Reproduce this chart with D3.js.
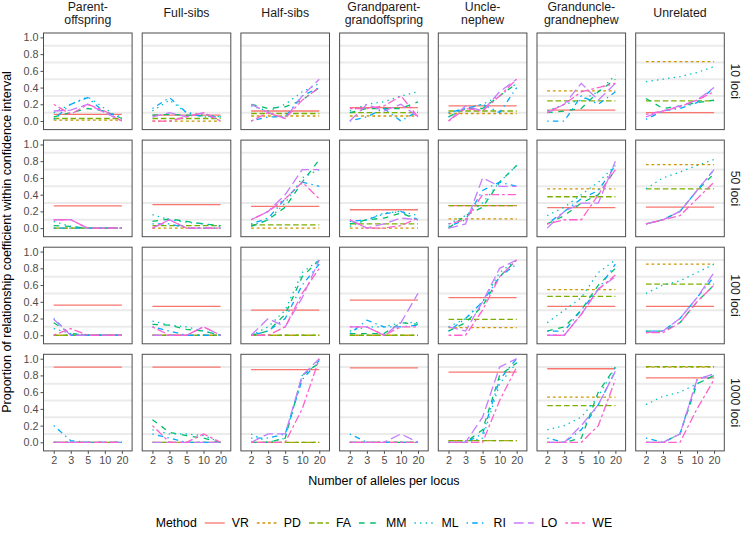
<!DOCTYPE html>
<html><head><meta charset="utf-8">
<script src="https://cdn.jsdelivr.net/npm/d3@7"></script>
<style>body{margin:0;background:#fff}svg{display:block;font-family:"Liberation Sans",Arial,sans-serif}</style>
</head><body><svg id="c" width="744" height="533"></svg>
<script>
const relationships = [["Parent-","offspring"],["Full-sibs"],["Half-sibs"],["Grandparent-","grandoffspring"],["Uncle-","nephew"],["Granduncle-","grandnephew"],["Unrelated"]];
const lociLevels = ["10 loci","50 loci","100 loci","1000 loci"];
const alleles = ["2","3","5","10","20"];
const yTicks = [0,0.2,0.4,0.6,0.8,1.0];
const gridVals = [0.1,0.3,0.5,0.7,0.9];
const methods = ["VR","PD","FA","MM","ML","RI","LO","WE"];
const colors = ["#F8766D","#CD9600","#7CAE00","#00BE67","#00BFC4","#00A9FF","#C77CFF","#FF61CC"];
const dashUnits = [null,[2,2],[4,2],[4,4],[1,3],[1,3,4,3],[7,3],[2,2,6,2]];

// values: [row(loci)][column(relationship)][alleles]
const VR = [
 [[.08,.08,.08,.08,.08],[.07,.07,.07,.07,.07],[.12,.12,.12,.12,.12],[.16,.16,.16,.16,.16],[.18,.18,.18,.18,.18],[.13,.13,.13,.13,.13],[.10,.10,.10,.10,.10]],
 [[.265,.265,.265,.265,.265],[.28,.28,.28,.28,.28],[.26,.26,.26,.26,.26],[.22,.22,.22,.22,.22],[.27,.27,.27,.27,.27],[.245,.245,.245,.245,.245],[.25,.25,.25,.25,.25]],
 [[.36,.36,.36,.36,.36],[.345,.345,.345,.345,.345],[.30,.30,.30,.30,.30],[.42,.42,.42,.42,.42],[.45,.45,.45,.45,.45],[.345,.345,.345,.345,.345],[.345,.345,.345,.345,.345]],
 [[.90,.90,.90,.90,.90],[.90,.90,.90,.90,.90],[.87,.87,.87,.87,.87],[.89,.89,.89,.89,.89],[.84,.84,.84,.84,.84],[.88,.88,.88,.88,.88],[.77,.77,.77,.77,.77]]
];
const PD = [
 [[.01,.01,.01,.01,.01],[0,0,0,0,0],[.06,.06,.06,.06,.06],[.06,.06,.06,.06,.06],[.09,.09,.09,.09,.09],[.36,.36,.36,.36,.36],[.71,.71,.71,.71,.71]],
 [[0,0,0,0,0],[0,0,0,0,0],[0,0,0,0,0],[0,0,0,0,0],[.11,.11,.11,.11,.11],[.47,.47,.47,.47,.47],[.76,.76,.76,.76,.76]],
 [[0,0,0,0,0],[0,0,0,0,0],[0,0,0,0,0],[0,0,0,0,0],[.09,.09,.09,.09,.09],[.545,.545,.545,.545,.545],[.85,.85,.85,.85,.85]],
 [[0,0,0,0,0],[0,0,0,0,0],[0,0,0,0,0],[0,0,0,0,0],[.02,.02,.02,.02,.02],[.54,.54,.54,.54,.54],[.90,.90,.90,.90,.90]]
];
const FA = [
 [[.03,.03,.03,.03,.03],[.03,.03,.03,.03,.03],[.09,.09,.09,.09,.09],[.10,.10,.10,.10,.10],[.12,.12,.12,.12,.12],[.24,.24,.24,.24,.24],[.24,.24,.24,.24,.24]],
 [[0,0,0,0,0],[.03,.03,.03,.03,.03],[.04,.04,.04,.04,.04],[.05,.05,.05,.05,.05],[.27,.27,.27,.27,.27],[.375,.375,.375,.375,.375],[.47,.47,.47,.47,.47]],
 [[0,0,0,0,0],[0,0,0,0,0],[0,0,0,0,0],[0,0,0,0,0],[.19,.19,.19,.19,.19],[.465,.465,.465,.465,.465],[.61,.61,.61,.61,.61]],
 [[0,0,0,0,0],[0,0,0,0,0],[0,0,0,0,0],[0,0,0,0,0],[.02,.02,.02,.02,.02],[.44,.44,.44,.44,.44],[.905,.905,.905,.905,.905]]
];
const MM = [
 [[.05,.1,.15,.12,.03],[.07,.08,.07,.06,.05],[.2,.15,.17,.25,.4],[.1,.15,.15,.15,.23],[.05,.15,.15,.3,.45],[.1,.12,.15,.35,.5],[.27,.15,.18,.22,.25]],
 [[.03,.02,0,0,0],[.08,.11,.08,.05,.03],[.02,.1,.25,.55,.82],[.05,.1,.12,.18,.1],[0,.15,.25,.55,.75],[.05,.15,.3,.4,.7],[.05,.1,.2,.45,.65]],
 [[.15,.02,0,0,0],[.13,.12,.07,.05,0],[0,.05,.25,.7,.9],[.02,.02,.02,.15,.13],[.05,.15,.35,.7,.9],[.05,.1,.3,.6,.8],[.05,.05,.15,.4,.6]],
 [[0,0,0,0,0],[.27,.12,.08,.05,0],[0,0,.05,.8,.95],[0,0,0,0,0],[0,0,.15,.8,.95],[0,0,.05,.6,.9],[0,0,.1,.7,.8]]
];
const ML = [
 [[.1,.2,.29,.15,.02],[.12,.25,.1,.08,.05],[.18,.12,.2,.35,.45],[.12,.2,.23,.3,.35],[.05,.15,.2,.3,.45],[.12,.2,.25,.35,.55],[.47,.5,.53,.58,.65]],
 [[.08,.02,0,0,0],[.16,.1,.07,.05,.02],[.03,.1,.3,.6,.7],[.02,.1,.18,.2,.15],[.05,.15,.3,.55,.75],[.15,.25,.4,.55,.75],[.47,.6,.67,.75,.82]],
 [[.08,.02,0,0,0],[.17,.12,.1,.05,0],[0,.1,.3,.75,.9],[.05,.1,.1,.15,.15],[.1,.2,.4,.75,.9],[.15,.3,.45,.75,.9],[.5,.6,.65,.75,.85]],
 [[0,0,0,0,0],[.15,.1,.1,.08,0],[.1,0,.05,.8,.95],[0,0,0,0,0],[0,0,.05,.7,.95],[.15,.2,.3,.55,.9],[.45,.55,.6,.7,.8]]
];
const RI = [
 [[.02,.2,.28,.1,.05],[.15,.28,.1,.05,.05],[0,.05,.05,.3,.4],[0,.05,.15,0,.12],[.1,.15,.2,.1,.4],[0,0,.3,.2,.35],[.02,.12,.15,.22,.4]],
 [[0,0,0,0,0],[.05,.05,0,0,0],[.05,.12,.35,.55,.5],[.08,.1,.17,.2,.1],[.02,.1,.45,.55,.5],[.05,.2,.35,.45,.75],[.05,.1,.2,.45,.7]],
 [[.2,0,0,0,0],[.1,.05,0,0,0],[0,.05,.2,.6,.85],[.02,.18,.1,.1,.12],[.05,.2,.4,.7,.85],[.05,.05,.3,.55,.85],[.05,.05,.2,.45,.7]],
 [[.2,.02,0,0,0],[.1,.05,0,0,0],[.05,.05,.1,.75,.98],[.1,0,0,0,0],[0,0,.1,.75,1.0],[.05,0,.15,.45,.85],[.05,0,.1,.75,.82]]
];
const LO = [
 [[.12,.13,.2,.1,0],[.05,.1,.05,.1,0],[.2,.1,.03,.3,.5],[0,.2,.12,.2,.05],[0,.18,.12,.35,.5],[.1,.2,.45,.25,.45],[.05,.12,.18,.25,.4]],
 [[.1,.1,0,0,0],[0,.1,0,0,0],[.1,.2,.4,.7,.7],[.1,0,.05,.12,.1],[0,.05,.6,.5,.5],[0,.2,.3,.3,.8],[.05,.1,.2,.45,.7]],
 [[.19,0,0,0,0],[0,0,0,.1,0],[0,.2,.1,.45,.9],[.1,.1,0,.15,.5],[.1,.05,.4,.8,.9],[0,0,.25,.55,.7],[.03,.05,.2,.45,.75]],
 [[0,0,0,0,0],[0,0,0,0,0],[0,.1,.1,.8,1.0],[0,0,0,.1,0],[0,0,.3,.9,1.0],[0,0,.2,.45,.85],[0,0,.1,.75,.82]]
];
const WE = [
 [[.2,.08,.2,.12,0],[0,0,.05,.1,0],[0,.1,.03,.25,.4],[.15,.15,.18,.3,.05],[0,.15,.12,.3,.5],[.1,.2,.35,.4,.45],[.08,.12,.17,.25,.35]],
 [[.1,.1,0,0,0],[0,.1,0,0,0],[.1,.2,.35,.55,.35],[.1,0,0,.03,.12],[.05,.1,.4,.4,.4],[.05,.1,.1,.4,.7],[.05,.1,.15,.35,.55]],
 [[0,.08,0,0,0],[.1,0,0,.1,0],[0,0,.1,.5,.8],[.1,.1,0,.1,.1],[0,0,.3,.7,.9],[0,0,.25,.55,.72],[.03,.03,.15,.4,.6]],
 [[0,0,0,0,0],[.2,0,0,.1,0],[0,0,0,.4,1.0],[0,0,0,0,0],[0,0,0,.5,.9],[0,0,0,.2,.75],[0,0,0,.4,.75]]
];
const seriesData = [VR,PD,FA,MM,ML,RI,LO,WE];

const svg = d3.select("#c");
const padL = 43.5, padT = 33, pw = 88.6, ph = 96.6, colPitch = 98.7, rowPitch = 107.1;
const lw = 1.3, du = 1.4;
const x = d3.scalePoint().domain(alleles).range([0,pw]).padding(0.6);
const y = d3.scaleLinear().domain([-0.1025,1.0525]).range([ph,0]);
const line = d3.line().x((d,i)=>x(alleles[i])).y(d=>y(d));
const fontFam = "Liberation Sans, Arial, sans-serif";

lociLevels.forEach((loci,r)=>{
  relationships.forEach((rel,c)=>{
    const g = svg.append("g").attr("transform",`translate(${padL+c*colPitch},${padT+r*rowPitch})`);
    g.append("rect").attr("width",pw).attr("height",ph).attr("fill","#fff");
    g.selectAll(".grid").data(gridVals).join("line")
      .attr("x1",0).attr("x2",pw).attr("y1",d=>y(d)).attr("y2",d=>y(d))
      .attr("stroke","#ebebeb").attr("stroke-width",2);
    const cp = g.append("clipPath").attr("id",`cp${r}_${c}`);
    cp.append("rect").attr("width",pw).attr("height",ph);
    const lg = g.append("g").attr("clip-path",`url(#cp${r}_${c})`);
    methods.forEach((m,k)=>{
      lg.append("path").datum(seriesData[k][r][c]).attr("d",line)
        .attr("fill","none").attr("stroke",colors[k]).attr("stroke-width",lw)
        .attr("stroke-dasharray",dashUnits[k]?dashUnits[k].map(v=>v*du).join(","):null);
    });
    g.append("rect").attr("width",pw).attr("height",ph).attr("fill","none").attr("stroke","#4d4d4d").attr("stroke-width",1);
    if(c===0){
      const ax = g.append("g").call(d3.axisLeft(y).tickValues(yTicks).tickFormat(d3.format(".1f")).tickSize(3).tickPadding(2));
      ax.select(".domain").remove();
      ax.selectAll("line").attr("stroke","#4d4d4d");
      ax.selectAll("text").attr("fill","#4d4d4d").style("font-size","10.8px").style("font-family",fontFam);
    }
    if(r===lociLevels.length-1){
      const ax = g.append("g").attr("transform",`translate(0,${ph})`).call(d3.axisBottom(x).tickSize(3).tickPadding(2));
      ax.select(".domain").remove();
      ax.selectAll("line").attr("stroke","#4d4d4d");
      ax.selectAll("text").attr("fill","#4d4d4d").style("font-size","10.8px").style("font-family",fontFam);
    }
    if(r===0){
      const t = svg.append("text").attr("text-anchor","middle")
        .attr("fill","#1a1a1a").style("font-size","12.3px");
      const y0 = rel.length===2 ? 10.5 : 17;
      rel.forEach((s,i)=>t.append("tspan").attr("x",padL+c*colPitch+pw/2).attr("y",y0+i*13).text(s));
    }
    if(c===relationships.length-1){
      const cx = padL+c*colPitch+pw+11.5, cy = padT+r*rowPitch+ph/2;
      svg.append("text").attr("transform",`translate(${cx},${cy}) rotate(90)`).attr("text-anchor","middle")
        .attr("dy","0.35em").attr("fill","#1a1a1a").style("font-size","12.3px").text(loci);
    }
  });
});

const panelsRight = padL+6*colPitch+pw;
const midX = (padL+panelsRight)/2;
const midY = (padT + padT+3*rowPitch+ph)/2;
svg.append("text").attr("x",midX).attr("y",484.5).attr("text-anchor","middle").attr("fill","#000").style("font-size","12.5px").text("Number of alleles per locus");
svg.append("text").attr("transform",`translate(10.5,${midY}) rotate(-90)`).attr("text-anchor","middle").attr("fill","#000").style("font-size","12.5px").text("Proportion of relationship coefficient within confidence interval");

// legend
const leg = svg.append("g");
const ly = 523;
const title = leg.append("text").attr("y",ly).attr("dy","0.35em").attr("fill","#000").style("font-size","12.3px").text("Method");
let lx = title.node().getComputedTextLength() + 8;
const keyW = 20, keyGap = 7, itemGap = 8;
methods.forEach((m,k)=>{
  leg.append("line").attr("x1",lx).attr("x2",lx+keyW).attr("y1",ly).attr("y2",ly)
    .attr("stroke",colors[k]).attr("stroke-width",lw)
    .attr("stroke-dasharray",dashUnits[k]?dashUnits[k].map(v=>v*du).join(","):null);
  const t = leg.append("text").attr("x",lx+keyW+keyGap).attr("y",ly).attr("dy","0.35em").attr("fill","#000").style("font-size","12.3px").text(m);
  lx += keyW+keyGap+t.node().getComputedTextLength()+itemGap;
});
const total = lx - itemGap;
leg.attr("transform",`translate(${midX-total/2},0)`);
</script></body></html>
